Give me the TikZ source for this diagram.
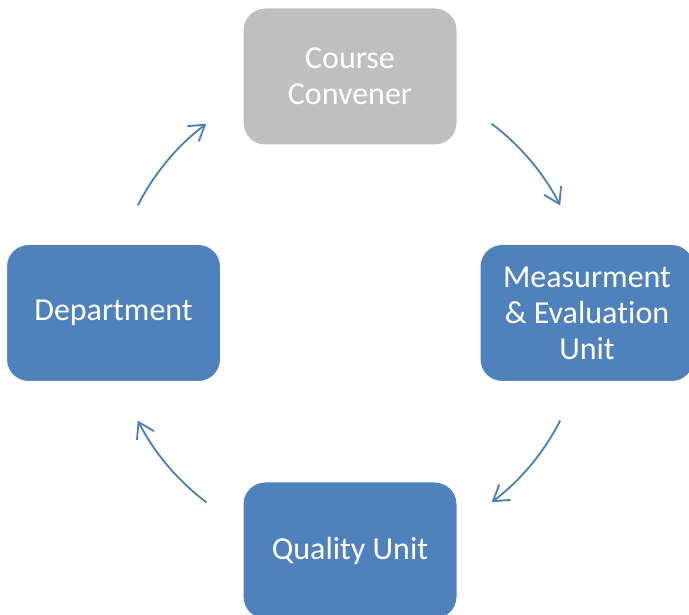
\documentclass[tikz,border=0pt]{standalone}
\usepackage{fontspec}
\setmainfont{Carlito}[Ligatures={NoCommon,NoContextual}]
\usetikzlibrary{positioning,arrows.meta,calc}
\definecolor{boxblue}{HTML}{4F81BD}
\definecolor{boxgray}{HTML}{BFBFBF}
\definecolor{arrowblue}{HTML}{4A7EBB}

\begin{document}
\begin{tikzpicture}[
  x=1pt, y=1pt,
  unit/.style={rectangle, rounded corners=22pt, fill=boxblue, draw=white, line width=1pt,
    minimum width=214pt, minimum height=137pt, inner sep=2pt, align=center,
    text=white, font=\fontsize{32}{36}\selectfont},
  head/.style={unit, fill=boxgray},
  flow/.style={-{Straight Barb[length=15pt,width=19pt]}, arrowblue, line width=1.8pt}
]
\useasboundingbox (0,0) rectangle (689,614);

% --- Unidades ---
\node[head] (conv) at (350,537.5) {Course\\Convener};
\node[unit] (meas) at (587,301) {Measurment\\\& Evalua\kern0pt tion\\Unit};
\node[unit] (qual) at (350,63.5) {Quality Unit};
\node[unit] (dept) at (113.5,301) {Department};

% --- Ciclo ---
\coordinate (hub) at (349,301);
\coordinate (c1) at ($(hub)+(53:237)$);
\coordinate (c2) at ($(hub)+(-27:237)$);
\coordinate (c3) at ($(hub)+(233:237)$);
\coordinate (c4) at ($(hub)+(153:237)$);

\draw[flow] (c1) arc[start angle=53, end angle=27, radius=237];
\draw[flow] (c2) arc[start angle=-27, end angle=-53, radius=237];
\draw[flow] (c3) arc[start angle=233, end angle=207, radius=237];
\draw[flow] (c4) arc[start angle=153, end angle=127, radius=237];

\end{tikzpicture}
\end{document}
